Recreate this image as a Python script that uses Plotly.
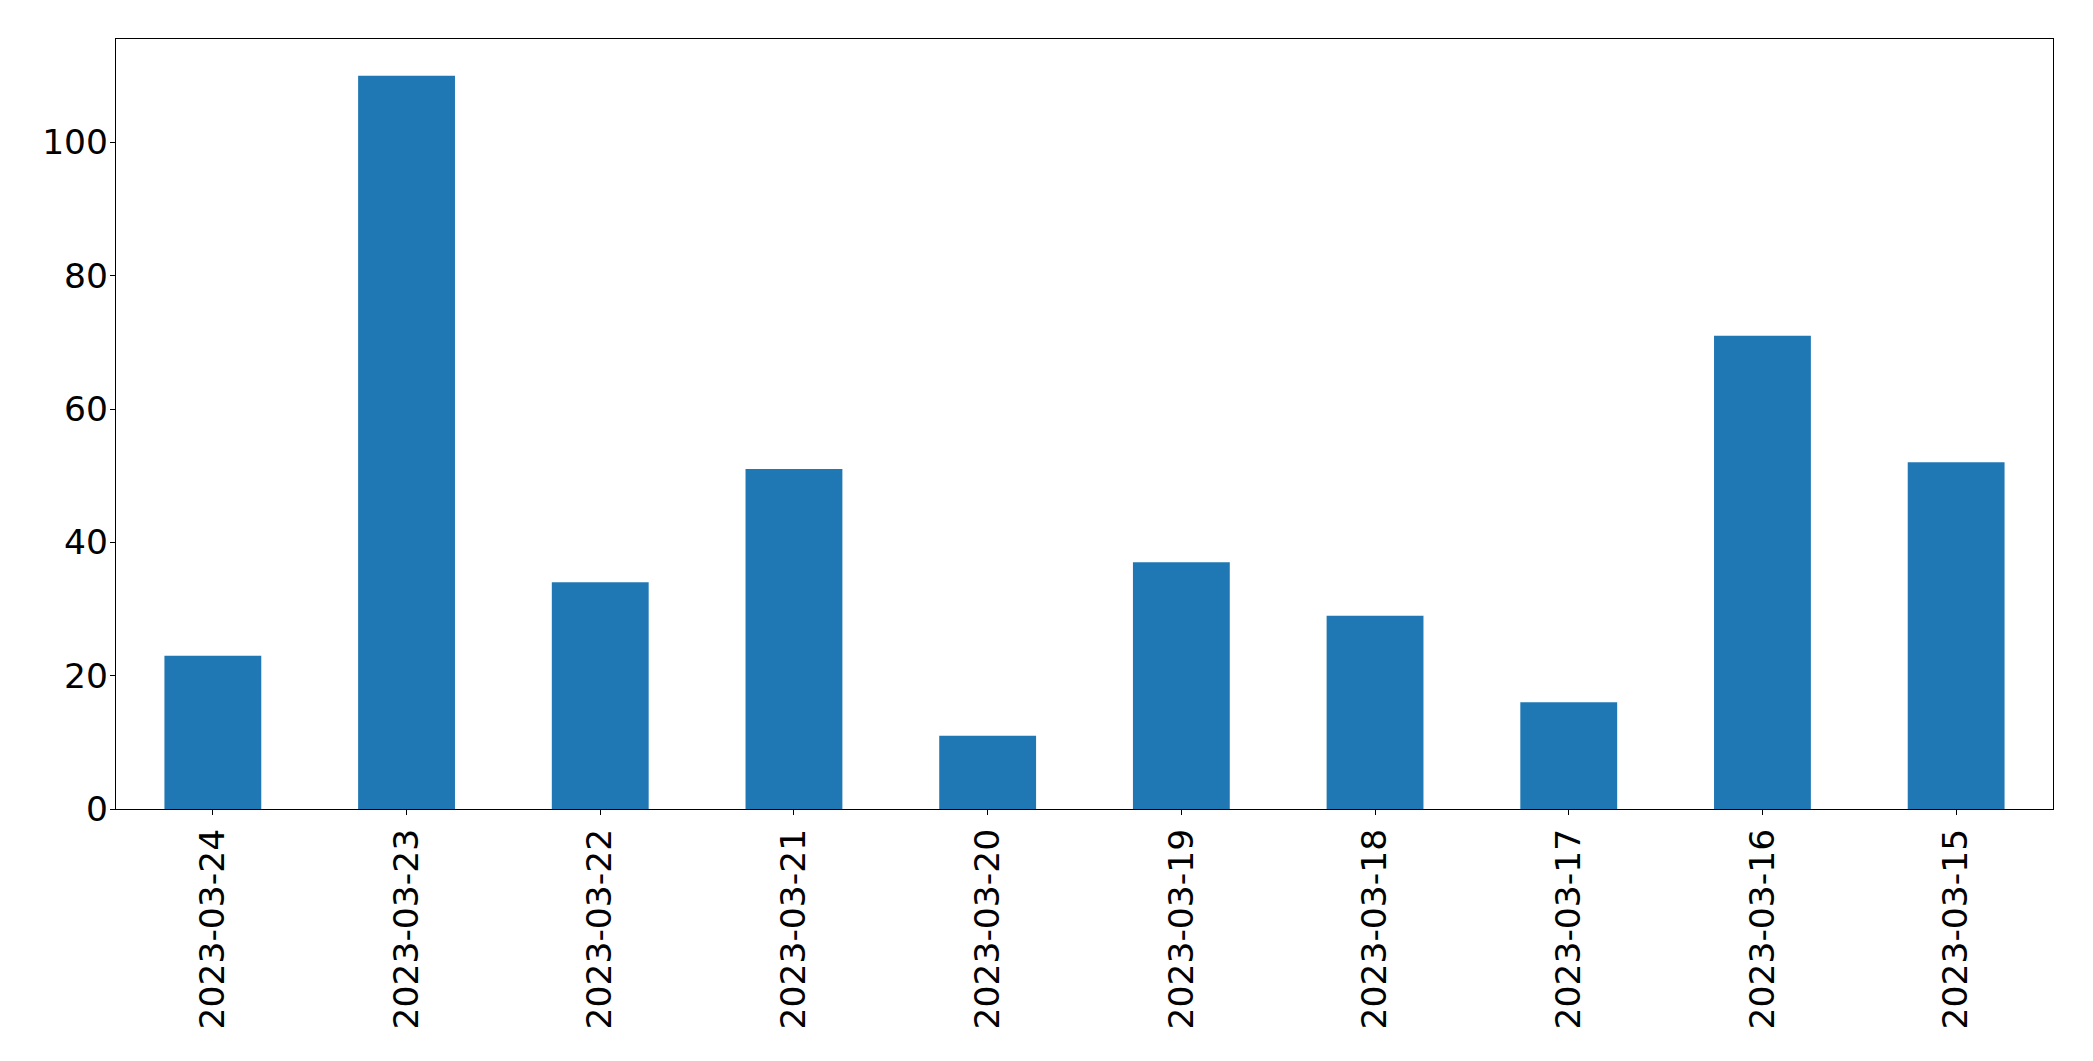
import plotly.graph_objects as go

dates = ["2023-03-24", "2023-03-23", "2023-03-22", "2023-03-21", "2023-03-20",
         "2023-03-19", "2023-03-18", "2023-03-17", "2023-03-16", "2023-03-15"]
counts = [23, 110, 34, 51, 11, 37, 29, 16, 71, 52]
y_ticks = [0, 20, 40, 60, 80, 100]

fig = go.Figure(go.Bar(x=dates, y=counts, marker=dict(color="#1f77b4", line=dict(width=0))))

font = dict(family="DejaVu Sans", size=34.5, color="black")
fig.update_layout(
    width=2085, height=1053,
    margin=dict(l=108, r=40, t=31, b=252),
    paper_bgcolor="white", plot_bgcolor="white",
    bargap=0.5, showlegend=False,
    font=font,
)
fig.update_xaxes(
    type="category", range=[-0.5, len(dates) - 0.5],
    showline=True, linecolor="black", linewidth=1.2, mirror=True,
    ticks="outside", ticklen=5, tickwidth=1.1, tickcolor="black",
    tickangle=-90, tickfont=font, showgrid=False, zeroline=False,
)
fig.update_yaxes(
    range=[0, max(counts) * 1.05], tickvals=y_ticks,
    showline=True, linecolor="black", linewidth=1.2, mirror=True,
    ticks="outside", ticklen=5, tickwidth=1.1, tickcolor="black",
    tickfont=font, showgrid=False, zeroline=False, ticklabelstandoff=-5,
)
fig.write_html("out.html")
